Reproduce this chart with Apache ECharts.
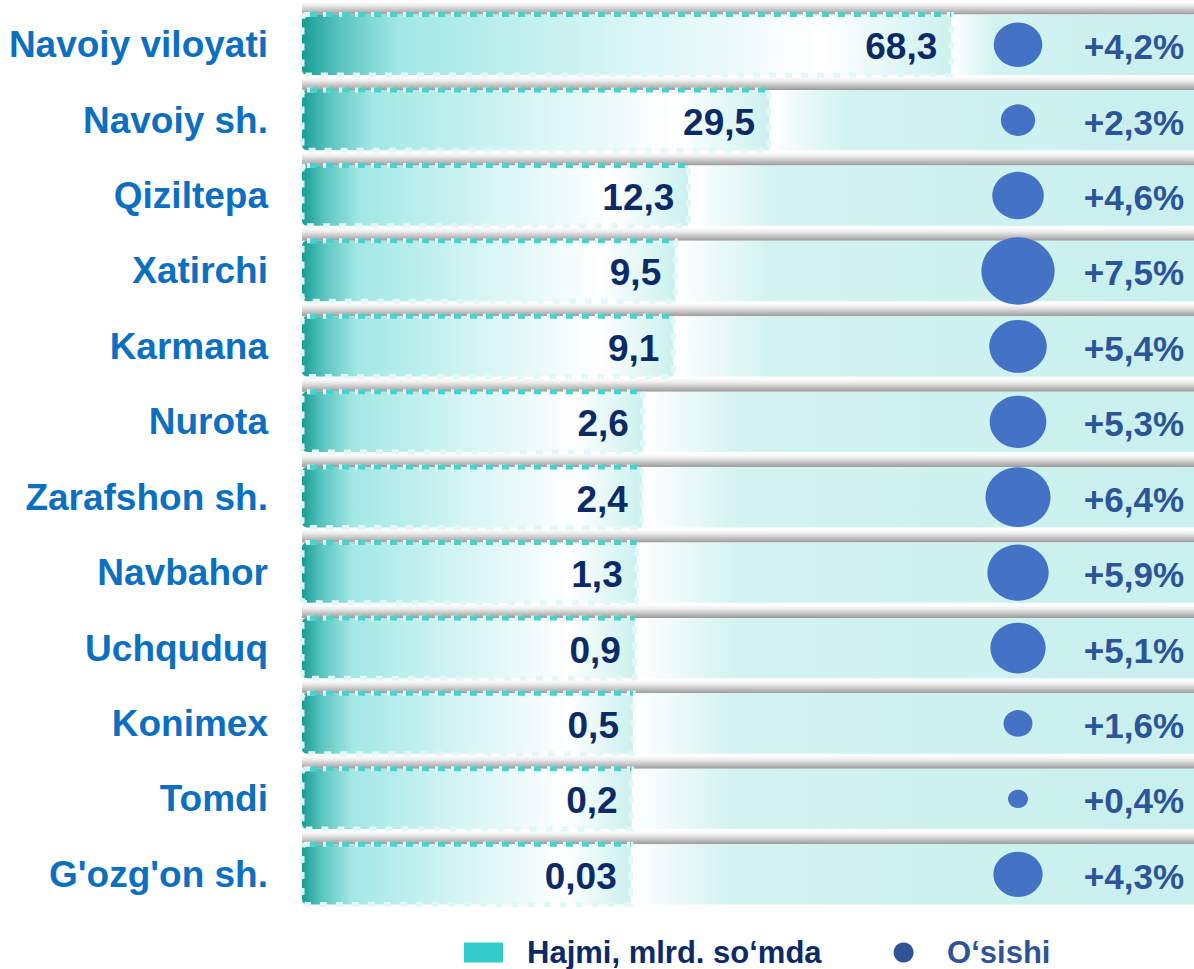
<!DOCTYPE html>
<html>
<head>
<meta charset="utf-8">
<title>Hajmi va o‘sishi</title>
<script src="https://cdn.jsdelivr.net/npm/echarts@6/dist/echarts.min.js"></script>
<style>
  html, body { margin: 0; padding: 0; background: #fff; }
  #chart { width: 1194px; height: 969px; }
</style>
</head>
<body>
<div id="chart"></div>
<script>
// tumanlar / shaharlar
const categories = ['Navoiy viloyati', 'Navoiy sh.', 'Qiziltepa', 'Xatirchi', 'Karmana', 'Nurota',
  'Zarafshon sh.', 'Navbahor', 'Uchquduq', 'Konimex', 'Tomdi', "G'ozg'on sh."]
// hajmi, mlrd. so'mda
const volume = [68.3, 29.5, 12.3, 9.5, 9.1, 2.6, 2.4, 1.3, 0.9, 0.5, 0.2, 0.03]
// o'sishi, %
const growth = [4.2, 2.3, 4.6, 7.5, 5.4, 5.3, 6.4, 5.9, 5.1, 1.6, 0.4, 4.3]

const FONT = 'Liberation Sans, Arial, sans-serif'
const fmt = v => String(v).replace('.', ',')

const chart = echarts.init(document.getElementById('chart'), null, { renderer: 'svg' })

/* fon: qator chizig'i va o'ng tomondagi och rang */
function renderRow(params, api) {
  const cs = params.coordSys
  const end = api.coord([api.value(0), api.value(1)])
  const h = api.size([0, 1])[1] * 0.8
  const top = end[1] - h / 2
  const right = cs.x + cs.width
  return {
    type: 'group',
    children: [
      {
        type: 'rect',
        shape: { x: cs.x, y: top - 13, width: cs.width, height: 13 },
        style: {
          fill: new echarts.graphic.LinearGradient(0, 0, 0, 1, [
            { offset: 0, color: '#ffffff' },
            { offset: 0.3, color: '#ececec' },
            { offset: 1, color: '#9b9b9b' }
          ])
        }
      },
      {
        type: 'rect',
        shape: { x: end[0], y: top, width: right - end[0], height: h },
        style: {
          fill: new echarts.graphic.LinearGradient(0, 0, 1, 0, [
            { offset: 0, color: '#ffffff' },
            { offset: 0.18, color: '#d2f3f1' },
            { offset: 1, color: '#c8f0ee' }
          ])
        }
      }
    ]
  }
}

/* hajmi ustuni */
function renderBar(params, api) {
  const cs = params.coordSys
  const v = api.value(0)
  const end = api.coord([v, api.value(1)])
  const h = api.size([0, 1])[1] * 0.8
  const top = end[1] - h / 2
  const w = end[0] - cs.x
  return {
    type: 'group',
    children: [
      {
        type: 'rect',
        shape: { x: cs.x, y: top, width: w, height: h, r: [5, 0, 0, 5] },
        style: {
          fill: new echarts.graphic.LinearGradient(0, 0, 1, 0, [
            { offset: 0, color: '#169d95' },
            { offset: 0.06, color: '#5cc5c0' },
            { offset: 0.15, color: '#a2e8e5' },
            { offset: 0.45, color: '#d0f4f3' },
            { offset: 0.8, color: '#ffffff' },
            { offset: 1, color: '#cbf1ef' }
          ]),
          stroke: '#e2f8f7',
          lineWidth: 5,
          lineDash: [7, 9]
        }
      },
      {
        type: 'line',
        shape: { x1: cs.x + 8, y1: top, x2: end[0], y2: top },
        style: { stroke: '#4cd0cb', lineWidth: 5, lineDash: [7, 9] }
      },
      {
        type: 'text',
        style: {
          x: end[0] - 14,
          y: end[1] + 2,
          text: fmt(v),
          align: 'right',
          verticalAlign: 'middle',
          fill: '#0b2a66',
          font: 'bold 37px ' + FONT
        }
      }
    ]
  }
}

chart.setOption({
  animation: false,
  textStyle: { fontFamily: FONT },
  legend: {
    left: 464,
    top: 937,
    padding: 0,
    itemWidth: 39,
    itemHeight: 20,
    itemGap: 72,
    textStyle: { fontSize: 31, lineHeight: 30, fontWeight: 'bold', padding: [0, 0, 0, 19] },
    data: [
      { name: 'Hajmi, mlrd. so‘mda', icon: 'rect', itemStyle: { color: '#33cccc' }, textStyle: { color: '#0b2a66' } },
      { name: 'O‘sishi', icon: 'circle', itemStyle: { color: '#2f5496' }, textStyle: { color: '#2f5496' } }
    ]
  },
  grid: [
    { left: 302, right: 0, top: 7, bottom: 57 },
    { left: 950, width: 136, top: 7, bottom: 57 }
  ],
  xAxis: [
    { type: 'value', gridIndex: 0, min: -70, max: 120, show: false },
    { type: 'category', gridIndex: 1, data: ['O‘sishi'], show: false }
  ],
  yAxis: [
    {
      type: 'category',
      gridIndex: 0,
      inverse: true,
      data: categories,
      axisLine: { show: false },
      axisTick: { show: false },
      splitLine: { show: false },
      axisLabel: { margin: 34, color: '#0c6fc0', fontSize: 37, fontWeight: 'bold', fontFamily: FONT }
    },
    { type: 'category', gridIndex: 1, inverse: true, data: categories, show: false }
  ],
  series: [
    {
      name: 'fon',
      type: 'custom',
      silent: true,
      z: 1,
      clip: false,
      renderItem: renderRow,
      encode: { x: 0, y: 1 },
      data: volume.map((v, i) => [v, i])
    },
    {
      name: 'Hajmi, mlrd. so‘mda',
      type: 'custom',
      z: 2,
      clip: false,
      itemStyle: { color: '#33cccc' },
      renderItem: renderBar,
      encode: { x: 0, y: 1 },
      data: volume.map((v, i) => [v, i])
    },
    {
      name: 'O‘sishi',
      type: 'scatter',
      xAxisIndex: 1,
      yAxisIndex: 1,
      z: 3,
      itemStyle: { color: '#4472c4', opacity: 1 },
      symbolSize: val => {
        const d = 17 + 7.5 * val[2]
        return [d, d * 0.92]
      },
      label: {
        show: true,
        position: 'inside',
        offset: [166, 2],
        align: 'right',
        color: '#2b5597',
        fontSize: 35,
        fontWeight: 'bold',
        fontFamily: FONT,
        formatter: p => '+' + fmt(p.value[2]) + '%'
      },
      data: growth.map((g, i) => ['O‘sishi', categories[i], g])
    }
  ]
})
</script>
</body>
</html>
